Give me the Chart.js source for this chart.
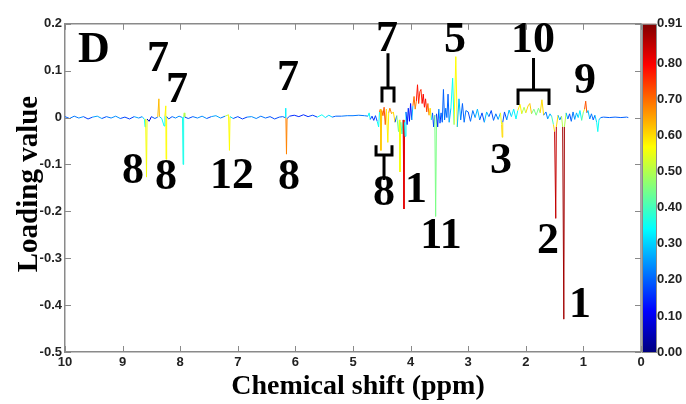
<!DOCTYPE html>
<html>
<head>
<meta charset="utf-8">
<script src="https://cdn.jsdelivr.net/npm/chart.js@4.4.0/dist/chart.umd.min.js"></script>
<style>
  html, body { margin: 0; padding: 0; background: #fff; }
</style>
</head>
<body>
<canvas id="loadingChart" width="686" height="404"></canvas>
<script>
// chemical shift (ppm), loading value and |r| colour value, point by point
const shift = [
  10.00, 9.92, 9.84, 9.76, 9.68, 9.60, 9.52, 9.44, 9.36, 9.28,
  9.20, 9.12, 9.04, 8.96, 8.88, 8.80, 8.72, 8.66, 8.62, 8.61,
  8.60, 8.585, 8.575, 8.54, 8.50, 8.44, 8.39, 8.37, 8.36, 8.32,
  8.28, 8.265, 8.25, 8.245, 8.235, 8.20, 8.14, 8.08, 8.02, 7.96,
  7.95, 7.94, 7.93, 7.92, 7.86, 7.78, 7.70, 7.62, 7.54, 7.46,
  7.38, 7.30, 7.22, 7.16, 7.145, 7.135, 7.08, 7.00, 6.92, 6.84,
  6.76, 6.68, 6.60, 6.52, 6.44, 6.36, 6.28, 6.22, 6.18, 6.17,
  6.165, 6.155, 6.145, 6.10, 6.02, 5.94, 5.86, 5.78, 5.70, 5.62,
  5.54, 5.48, 5.42, 5.36, 5.30, 5.20, 5.10, 5.00, 4.90, 4.80,
  4.74, 4.72, 4.70, 4.67, 4.64, 4.61, 4.58, 4.555, 4.54, 4.525,
  4.515, 4.50, 4.48, 4.46, 4.44, 4.42, 4.395, 4.38, 4.36, 4.33,
  4.30, 4.27, 4.24, 4.21, 4.195, 4.185, 4.17, 4.15, 4.13, 4.115,
  4.105, 4.095, 4.08, 4.06, 4.04, 4.02, 4.00, 3.98, 3.96, 3.94,
  3.92, 3.90, 3.88, 3.86, 3.84, 3.82, 3.80, 3.78, 3.76, 3.74,
  3.72, 3.70, 3.68, 3.66, 3.64, 3.62, 3.60, 3.58, 3.565, 3.55,
  3.53, 3.51, 3.49, 3.47, 3.45, 3.43, 3.41, 3.39, 3.37, 3.35,
  3.33, 3.30, 3.27, 3.245, 3.215, 3.19, 3.16, 3.13, 3.10, 3.07,
  3.04, 3.00, 2.96, 2.92, 2.88, 2.84, 2.80, 2.76, 2.72, 2.68,
  2.64, 2.60, 2.56, 2.52, 2.48, 2.44, 2.42, 2.41, 2.40, 2.37,
  2.33, 2.29, 2.25, 2.21, 2.17, 2.14, 2.10, 2.07, 2.03, 2.00,
  1.96, 1.93, 1.90, 1.86, 1.82, 1.78, 1.75, 1.72, 1.69, 1.65,
  1.62, 1.58, 1.55, 1.52, 1.50, 1.48, 1.47, 1.44, 1.41, 1.38,
  1.36, 1.34, 1.33, 1.30, 1.27, 1.24, 1.21, 1.18, 1.15, 1.12,
  1.09, 1.06, 1.03, 1.00, 0.98, 0.96, 0.94, 0.92, 0.89, 0.86,
  0.83, 0.80, 0.77, 0.75, 0.73, 0.70, 0.65, 0.55, 0.45, 0.35,
  0.25, 0.22
];
const loading = [
  0.002, -0.002, 0.003, -0.001, 0.002, -0.003, 0.001, 0.003, -0.002, 0.002,
  -0.001, 0.003, -0.002, 0.001, -0.003, 0.002, -0.001, 0.002, -0.004, -0.02,
  -0.003, -0.127, -0.003, -0.008, 0.002, -0.002, 0.001, 0.04, 0.002, -0.002,
  -0.018, 0.003, 0.025, -0.089, 0.002, -0.003, 0.002, -0.001, 0.003, 0.0,
  -0.10, 0.002, 0.01, 0.001, -0.002, 0.002, -0.001, 0.003, -0.002, 0.002,
  0.004, -0.001, 0.003, 0.006, -0.07, 0.002, -0.002, 0.002, -0.003, 0.001,
  0.002, -0.002, 0.003, -0.001, 0.002, -0.003, 0.001, 0.002, 0.0, 0.02,
  0.0, -0.078, -0.002, 0.003, 0.005, 0.002, 0.006, 0.002, 0.005, 0.001,
  0.006, 0.0, 0.005, 0.001, 0.003, 0.003, 0.004, 0.004, 0.005, 0.004,
  0.003, 0.01, -0.004, 0.003, -0.006, 0.004, -0.008, -0.02, 0.012, 0.018,
  -0.07, 0.015, 0.004, 0.022, -0.015, 0.018, -0.053, 0.01, 0.02, 0.008,
  0.012, -0.01, 0.004, -0.03, -0.005, -0.116, -0.01, -0.035, -0.005, -0.195,
  -0.01, -0.04, 0.012, -0.015, 0.02, -0.008, 0.03, -0.005, 0.025, 0.045,
  0.018, 0.035, 0.07, 0.03, 0.055, 0.06, 0.03, 0.05, 0.022, 0.04,
  0.012, 0.03, 0.005, 0.02, -0.005, 0.01, -0.02, 0.005, -0.211, 0.008,
  -0.02, 0.018, -0.012, 0.01, -0.01, 0.06, -0.005, 0.02, 0.0, 0.05,
  -0.01, 0.02, 0.084, -0.015, 0.13, -0.02, 0.04, -0.005, 0.03, -0.01,
  0.015, 0.012, -0.008, 0.015, 0.0, 0.018, -0.005, 0.01, -0.01, 0.012,
  0.002, 0.015, -0.006, 0.008, -0.004, 0.01, -0.015, -0.042, -0.01, 0.012,
  -0.005, 0.016, 0.002, 0.018, -0.003, 0.015, 0.028, 0.008, 0.022, 0.01,
  0.025, 0.03, 0.008, 0.018, 0.005, 0.02, 0.01, 0.038, 0.005, 0.012,
  -0.003, 0.008, 0.002, -0.015, -0.03, -0.215, -0.02, 0.005, -0.005, 0.003,
  -0.02, -0.43, -0.02, 0.01, -0.003, 0.008, -0.008, 0.012, -0.004, 0.01,
  0.0, 0.015, -0.006, 0.012, 0.018, 0.035, 0.01, 0.015, -0.003, 0.008,
  -0.005, 0.005, -0.01, -0.03, -0.005, 0.0, 0.001, 0.0, 0.001, 0.0,
  0.001, 0.0
];
const corr = [
  .2, .17, .22, .18, .24, .17, .2, .26, .18, .22,
  .17, .24, .18, .2, .17, .26, .18, .22, .3, .35,
  .3, .56, .3, .08, .18, .2, .22, .63, .3, .18,
  .35, .3, .58, .57, .3, .18, .22, .17, .24, .22,
  .36, .3, .5, .22, .18, .22, .17, .24, .18, .2,
  .26, .18, .22, .5, .57, .3, .18, .22, .17, .2,
  .24, .18, .22, .17, .2, .18, .22, .2, .22, .33,
  .3, .68, .3, .18, .15, .18, .15, .2, .17, .18,
  .35, .18, .3, .18, .2, .22, .22, .22, .22, .22,
  .25, .35, .18, .22, .15, .26, .18, .35, .65, .72,
  .62, .7, .45, .72, .35, .7, .58, .6, .68, .5,
  .6, .18, .22, .45, .28, .56, .33, .4, .28, .82,
  .4, .33, .15, .17, .15, .18, .12, .18, .28, .7,
  .62, .68, .78, .7, .75, .76, .68, .8, .7, .78,
  .65, .7, .5, .6, .4, .33, .18, .28, .45, .28,
  .15, .28, .15, .22, .15, .2, .18, .22, .15, .2,
  .18, .28, .35, .17, .57, .15, .28, .18, .2, .15,
  .22, .18, .15, .22, .15, .28, .12, .18, .15, .28,
  .15, .18, .12, .22, .18, .28, .55, .6, .5, .18,
  .15, .28, .18, .33, .18, .35, .58, .35, .5, .4,
  .6, .62, .35, .45, .3, .45, .35, .6, .3, .22,
  .18, .28, .33, .4, .6, .85, .6, .28, .22, .28,
  .5, .88, .5, .28, .18, .18, .15, .22, .15, .28,
  .18, .33, .15, .45, .55, .72, .5, .28, .18, .22,
  .18, .28, .3, .35, .28, .22, .2, .2, .2, .2,
  .2, .2
];

// colour bar
const corrMax = 0.91;
const barTicks = [0, 0.1, 0.2, 0.3, 0.4, 0.5, 0.6, 0.7, 0.8, 0.91];

// peak numbers, anchored in data units
const peakText = ['7', '7', '8', '8', '12', '7', '8', '7', '8', '1', '5', '11', '3', '10', '9', '2', '1'];
const peakShift = [8.385, 8.056, 8.819, 8.247, 7.10, 6.128, 6.111, 4.41, 4.462, 3.906, 3.229, 3.472, 2.431, 1.875, 0.972, 1.615, 1.059];
const peakLoad = [0.124, 0.057, -0.116, -0.129, -0.127, 0.082, -0.129, 0.167, -0.162, -0.156, 0.165, -0.255, -0.095, 0.165, 0.076, -0.264, -0.401];

// brackets: from / to (ppm), leg tip, join and stem end (loading)
const brFrom = [4.497, 4.60, 2.135];
const brTo = [4.288, 4.323, 1.597];
const brTip = [0.032, -0.059, 0.027];
const brJoin = [0.063, -0.080, 0.059];
const brStem = [0.137, -0.133, 0.127];

function jet(t) {
  t = Math.min(1, Math.max(0, t));
  const c = v => Math.round(255 * Math.min(1, Math.max(0, v)));
  return 'rgb(' + c(1.5 - Math.abs(4 * t - 3)) + ',' + c(1.5 - Math.abs(4 * t - 2)) + ',' + c(1.5 - Math.abs(4 * t - 1)) + ')';
}

const points = shift.map((s, i) => ({ x: s, y: loading[i] }));

const tickFont = { family: '"Liberation Sans", Arial, sans-serif', size: 13, weight: 'bold' };

const decorPlugin = {
  id: 'decor',
  afterDatasetsDraw(chart) {
    const { ctx, chartArea: a, scales } = chart;
    const x = scales.x, y = scales.y, cb = scales.cb;
    ctx.save();

    // box top/right and inward ticks
    ctx.strokeStyle = '#8a8a8a';
    ctx.lineWidth = 1.5;
    ctx.beginPath();
    ctx.moveTo(a.left, a.top);
    ctx.lineTo(a.right, a.top);
    ctx.lineTo(a.right, a.bottom);
    ctx.stroke();
    ctx.lineWidth = 1;
    ctx.beginPath();
    x.ticks.forEach(t => {
      const px = Math.round(x.getPixelForValue(t.value)) + 0.5;
      ctx.moveTo(px, a.bottom); ctx.lineTo(px, a.bottom - 6);
      ctx.moveTo(px, a.top); ctx.lineTo(px, a.top + 6);
    });
    y.ticks.forEach(t => {
      const py = Math.round(y.getPixelForValue(t.value)) + 0.5;
      ctx.moveTo(a.left, py); ctx.lineTo(a.left + 6, py);
      ctx.moveTo(a.right, py); ctx.lineTo(a.right - 6, py);
    });
    ctx.stroke();

    // colour bar
    const bx = a.right + 1, bw = 14;
    const g = ctx.createLinearGradient(0, cb.bottom, 0, cb.top);
    for (let i = 0; i <= 32; i++) g.addColorStop(i / 32, jet(i / 32));
    ctx.fillStyle = g;
    ctx.fillRect(bx, cb.top, bw, cb.bottom - cb.top);
    ctx.strokeStyle = '#8a8a8a';
    ctx.strokeRect(bx + 0.5, cb.top + 0.5, bw, cb.bottom - cb.top);

    // brackets
    ctx.strokeStyle = '#000';
    ctx.lineWidth = 3;
    brFrom.forEach((f, i) => {
      const x0 = x.getPixelForValue(f), x1 = x.getPixelForValue(brTo[i]);
      const yt = y.getPixelForValue(brTip[i]), yj = y.getPixelForValue(brJoin[i]), ys = y.getPixelForValue(brStem[i]);
      const xm = (x0 + x1) / 2;
      ctx.beginPath();
      ctx.moveTo(x0, yt); ctx.lineTo(x0, yj); ctx.lineTo(x1, yj); ctx.lineTo(x1, yt);
      ctx.moveTo(xm, yj); ctx.lineTo(xm, ys);
      ctx.stroke();
    });

    // peak numbers
    ctx.fillStyle = '#000';
    ctx.textAlign = 'center';
    ctx.textBaseline = 'middle';
    ctx.font = 'bold 44px "Liberation Serif", "Times New Roman", serif';
    peakText.forEach((t, i) => {
      ctx.fillText(t, x.getPixelForValue(peakShift[i]), y.getPixelForValue(peakLoad[i]));
    });
    ctx.fillText('D', a.left + 29, a.top + 27);

    // axis titles
    ctx.font = 'bold 28px "Liberation Serif", "Times New Roman", serif';
    ctx.fillText('Chemical shift (ppm)', (a.left + a.right) / 2 + 5, 387);
    ctx.font = 'bold 29px "Liberation Serif", "Times New Roman", serif';
    ctx.translate(30, 184);
    ctx.rotate(-Math.PI / 2);
    ctx.fillText('Loading value', 0, 0);
    ctx.restore();
  }
};

new Chart(document.getElementById('loadingChart').getContext('2d'), {
  type: 'line',
  data: {
    datasets: [{
      data: points,
      borderWidth: 1,
      pointRadius: 0,
      tension: 0,
      segment: {
        borderColor: c => {
          const i = c.p0DataIndex, j = c.p1DataIndex;
          const k = Math.abs(loading[j]) > Math.abs(loading[i]) ? j : i;
          return jet(corr[k] / corrMax);
        }
      }
    }]
  },
  options: {
    responsive: false,
    animation: false,
    layout: { padding: { top: 20, left: 0, right: 0, bottom: 0 } },
    plugins: { legend: { display: false }, tooltip: { enabled: false } },
    scales: {
      x: {
        type: 'linear',
        reverse: true,
        min: 0,
        max: 10,
        afterFit: s => { s.height = 52; },
        ticks: { stepSize: 1, font: tickFont, color: '#222', padding: 3, maxRotation: 0 },
        grid: { display: false, drawTicks: false },
        border: { display: true, color: '#8a8a8a', width: 1.5 }
      },
      y: {
        type: 'linear',
        min: -0.5,
        max: 0.2,
        afterFit: s => { s.width = 65; },
        ticks: {
          stepSize: 0.1, font: tickFont, color: '#222', padding: 3,
          callback: v => String(Math.round(v * 10) / 10)
        },
        grid: { display: false, drawTicks: false },
        border: { display: true, color: '#8a8a8a', width: 1.5 }
      },
      cb: {
        type: 'linear',
        position: 'right',
        min: 0,
        max: corrMax,
        afterFit: s => { s.width = 45; },
        afterBuildTicks: s => { s.ticks = barTicks.map(v => ({ value: v })); },
        ticks: { font: tickFont, color: '#222', padding: 16, callback: v => v.toFixed(2) },
        grid: { display: false, drawTicks: false },
        border: { display: false }
      }
    }
  },
  plugins: [decorPlugin]
});
</script>
</body>
</html>
